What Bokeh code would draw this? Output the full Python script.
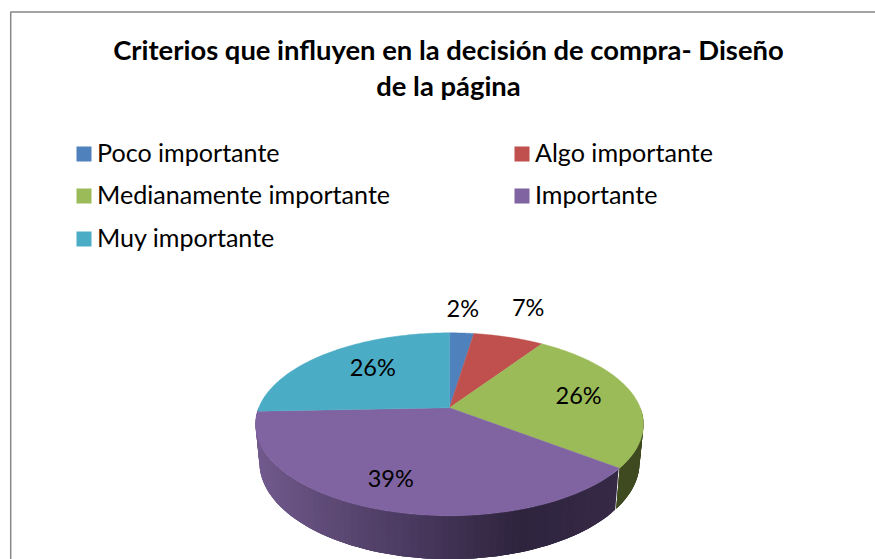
import numpy as np
from bokeh.plotting import figure
from bokeh.models import Range1d
from bokeh.core.properties import value
from bokeh.embed import file_html
from bokeh.resources import INLINE

# ---- data ----
categories = ["Poco importante", "Algo importante", "Medianamente importante", "Importante", "Muy importante"]
shares = [2.4, 7.0, 26.0, 39.0, 25.6]
colors = ["#4F81BD", "#C0504D", "#9BBB59", "#8064A2", "#4BACC6"]
title_lines = ["Criterios que influyen en la decisión de compra- Diseño", "de la página"]

# ---- layout (page pixels) ----
W, H = 875, 559
FONT = "Lato"
APEX_X, APEX_Y = 449, 407.3
A, B, K = 88.5, 190.8, 0.18      # projection of the pie disc
DEPTH, SHRINK_X, SHRINK_Y = 37.0, 0.98, 1.06   # lower rim
label_r = [1.42, 1.45, 0.70, 0.75, 0.60]
label_nudge_x = [-3, -2, 0, -9, 0]
label_nudge_y = [0, -5, -3, -2, -7]
legend_cols = [76, 514]
legend_rows = [153.5, 195.5, 238.5]
legend_text_shift = -2.5
legend_cells = [(0, 0), (1, 0), (0, 1), (1, 1), (0, 2)]
side_stops_x = [255, 330, 420, 523, 640]
side_stops_purple = [(0x72, 0x5A, 0x8E), (0x5E, 0x4A, 0x76), (0x48, 0x38, 0x5E), (0x2E, 0x24, 0x3E), (0x38, 0x2A, 0x48)]
side_green = "#3F4A20"


def project(phi, r=1.0):
    u, v = r * np.sin(phi), r * np.cos(phi)
    d = 1 + K * v
    return B * u / d, A * v / d


def top_pts(phi, r=1.0):
    x, y = project(phi, r)
    return APEX_X + x, APEX_Y - y


def low_pts(phi):
    x, y = project(phi)
    return APEX_X + SHRINK_X * x, APEX_Y - SHRINK_Y * y + DEPTH


p = figure(width=W, height=H, x_range=Range1d(0, W), y_range=Range1d(H, 0),
           toolbar_location=None, output_backend="svg", min_border=0,
           outline_line_color=None, background_fill_color="white", border_fill_color="white")
p.xaxis.visible = False
p.yaxis.visible = False
p.grid.visible = False

# chart frame (left and top edges)
p.line([10.2, 10.2, W], [H, 11.5, 11.5], line_color="#868686", line_width=1.5)

# cumulative angles
total = sum(shares)
edges = np.concatenate([[0], np.cumsum(shares)]) / total * 2 * np.pi

# side wall: each strip overlaps the following one so no seams show
phi_side = np.linspace(np.pi / 2, 3 * np.pi / 2, 91)
n = len(phi_side)
xs, ys, cs = [], [], []
for i in range(n - 1):
    seg = phi_side[i:i + 2]
    a = seg[0]
    b = phi_side[min(i + 3, n - 1)]
    mid = (seg[0] + seg[1]) / 2
    if mid < edges[3]:
        b = min(b, edges[3])
    sub = np.linspace(a, b, 4)
    tx, ty = top_pts(sub)
    lx_, ly_ = low_pts(sub)
    xs.append(np.r_[tx, lx_[::-1]])
    ys.append(np.r_[ty, ly_[::-1]])
    if mid < edges[3]:
        cs.append(side_green)
    else:
        xm = tx[0]
        rgb = [np.interp(xm, side_stops_x, [s[j] for s in side_stops_purple]) for j in range(3)]
        cs.append("#%02X%02X%02X" % tuple(int(round(c)) for c in rgb))
p.patches(xs, ys, fill_color=cs, line_color=None)

# top face
for i, c in enumerate(colors):
    phi = np.linspace(edges[i], edges[i + 1], 90)
    x, y = top_pts(phi)
    p.patch(np.r_[APEX_X, x], np.r_[APEX_Y, y], fill_color=c, line_color=c, line_width=0.4)

# data labels
mids = (edges[:-1] + edges[1:]) / 2
lx, ly, lt = [], [], []
for i, s in enumerate(shares):
    x, y = top_pts(mids[i], label_r[i])
    lx.append(x + label_nudge_x[i])
    ly.append(y + label_nudge_y[i])
    lt.append(f"{round(s)}%")
p.text(lx, ly, text=lt, text_font=value(FONT), text_font_size="23.5px", text_color="#000000",
       text_align="center", text_baseline="middle")

# title
p.text([448, 448], [49, 85], text=title_lines, text_font=value(FONT),
       text_font_style="bold", text_font_size="27.4px", text_color="#000000",
       text_align="center", text_baseline="middle")

# legend
sx = [legend_cols[c] + 7.5 for c, r in legend_cells]
sy = [legend_rows[r] for c, r in legend_cells]
p.rect(sx, sy, width=15, height=15, fill_color=colors, line_color=None)
p.text([legend_cols[c] + 20.5 for c, r in legend_cells], [y + legend_text_shift for y in sy], text=categories,
       text_font=value(FONT), text_font_size="25.1px", text_color="#000000", text_align="left",
       text_baseline="middle")

open("out.html", "w").write(file_html(p, INLINE))
